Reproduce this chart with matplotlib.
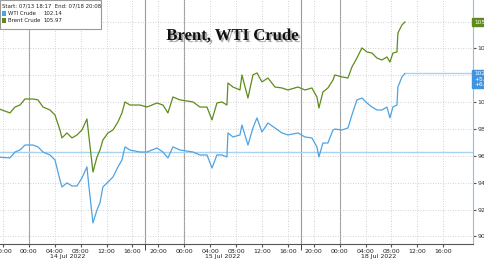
import matplotlib
matplotlib.use("Agg")
import matplotlib.pyplot as plt
import matplotlib.patheffects as pe
from matplotlib import font_manager
from matplotlib.patches import Rectangle
from matplotlib.transforms import blended_transform_factory

# ----------------------------------------------------------------------
# Data (hours on the compressed trading axis, 0 = 13 Jul 20:00)

hours = [-1.0, 1.08, 1.85, 2.63, 3.40, 4.63, 5.41, 6.18, 7.26, 8.03,
         8.80, 9.11, 9.88, 10.66, 11.43, 12.20, 12.97, 13.28, 13.90, 14.52,
         14.98, 15.44, 16.22, 16.99, 17.76, 18.38, 18.84, 19.61, 21.16, 22.24,
         23.78, 24.71, 25.48, 26.25, 27.34, 29.34, 30.42, 31.51, 32.28, 33.05,
         33.82, 34.59, 34.75, 35.52, 36.60, 36.91, 37.84, 38.61, 39.23, 40.00,
         40.93, 42.01, 43.09, 44.02, 45.56, 46.64, 47.72, 48.49, 48.80, 49.42,
         50.19, 50.97, 51.27, 52.36, 53.28, 53.90, 54.67, 55.44, 56.22, 56.99,
         57.76, 58.53, 59.31, 59.77, 60.23, 60.85, 61.00, 61.62, 62.09]

brent = [99.57, 99.20, 99.64, 99.79, 100.24, 100.24, 100.17, 99.64, 99.42, 99.05,
         97.93, 97.34, 97.71, 97.34, 97.56, 97.93, 98.75, 97.41, 94.80, 95.92,
         96.44, 97.19, 97.71, 97.93, 98.53, 99.20, 100.02, 99.79, 99.79, 99.64,
         99.94, 99.79, 99.20, 100.39, 100.17, 100.02, 99.64, 99.64, 98.68, 99.94,
         100.02, 99.79, 101.43, 101.13, 100.91, 102.03, 100.31, 102.03, 102.18, 101.51,
         101.80, 101.13, 101.06, 100.91, 101.13, 100.91, 101.06, 100.39, 99.57, 100.76,
         101.06, 101.65, 102.03, 101.88, 101.80, 102.62, 103.29, 104.04, 103.74, 103.66,
         103.29, 103.14, 103.37, 102.99, 103.66, 103.74, 105.15, 105.75, 105.97]

wti = [95.92, 95.85, 96.29, 96.44, 96.81, 96.81, 96.67, 96.29, 96.07, 95.70,
       94.21, 93.69, 93.99, 93.76, 93.76, 94.36, 95.18, 93.69, 91.01, 91.98,
       92.50, 93.69, 94.06, 94.43, 95.18, 95.70, 96.67, 96.44, 96.29, 96.29,
       96.59, 96.29, 95.85, 96.67, 96.44, 96.29, 96.07, 96.07, 95.10, 96.07,
       96.07, 95.92, 97.71, 97.41, 97.56, 98.30, 96.81, 98.08, 98.83, 97.78,
       98.45, 98.08, 97.71, 97.56, 97.71, 97.41, 97.34, 96.67, 95.92, 96.96,
       96.96, 97.93, 98.00, 97.93, 98.08, 99.05, 100.17, 100.31, 99.94, 99.64,
       99.42, 99.42, 99.64, 98.83, 99.64, 99.79, 101.13, 101.88, 102.14]

wti_prev_close = 96.29
wti_change = ["+5.85", "+6.08%"]

tick_hours = list(range(0, 72, 4))
tick_labels = ["20:00", "00:00", "04:00", "08:00", "12:00", "16:00",
               "20:00", "00:00", "04:00", "08:00", "12:00", "16:00",
               "20:00", "00:00", "04:00", "08:00", "12:00", "16:00"]
session_hours = [4, 22, 28, 46, 52]
date_hours = [10, 34, 58]
date_labels = ["14 Jul 2022", "15 Jul 2022", "18 Jul 2022"]
y_ticks = [90, 92, 94, 96, 98, 100, 102, 104, 106]
y_hidden = [102, 106]   # covered by the last value tags

BRENT_C = "#5e8c1c"
WTI_C = "#4ea3e2"

available = {f.name for f in font_manager.fontManager.ttflist}
narrow = "Liberation Sans Narrow" if "Liberation Sans Narrow" in available else "DejaVu Sans"
leg_size = 4.6 if narrow != "DejaVu Sans" else 3.9

# ----------------------------------------------------------------------
# Plot

W, H = 485, 260
fig = plt.figure(figsize=(W / 100, H / 100), dpi=100)
ax = fig.add_axes([0, 16 / H, 473 / W, 244 / H])

ax.set_xlim(-0.46, 72.6)
ax.set_ylim(89.44, 107.61)

ax.grid(True, color="#c4c4c4", linestyle=(0, (1, 2)), linewidth=0.6)
for h in session_hours:
    ax.axvline(h, color="#9a9a9a", linewidth=0.8, zorder=1)

ax.axhline(wti_prev_close, color="#a8d2f0", linewidth=1.0, zorder=2)
ax.hlines(wti[-1], hours[-1], 72.6, color="#a8d2f0", linewidth=1.0, zorder=2)

ax.plot(hours, wti, color=WTI_C, linewidth=0.9, zorder=3)
ax.plot(hours, brent, color=BRENT_C, linewidth=0.9, zorder=3)

for s in ["left", "top"]:
    ax.spines[s].set_visible(False)
ax.spines["right"].set_color("#8fc0e6")
ax.spines["bottom"].set_color("#555555")

ax.set_xticks(tick_hours)
ax.set_xticklabels(tick_labels)
ax.set_xticks(session_hours, minor=True)
ax.tick_params(axis="x", which="major", labelsize=4.5, length=2, pad=1.5,
               color="#555555", labelcolor="#222222")
ax.tick_params(axis="x", which="minor", length=4, color="#222222")
for h, lab in zip(date_hours, date_labels):
    ax.text(h, -0.05, lab, transform=blended_transform_factory(ax.transData, ax.transAxes),
            ha="center", va="center", fontsize=4.5, color="#222222")

ax.yaxis.tick_right()
ax.set_yticks(y_ticks)
ax.set_yticklabels(["" if v in y_hidden else "%.2f" % v for v in y_ticks])
ax.tick_params(axis="y", labelsize=4.5, length=2, pad=1, color="#555555",
               labelcolor="#333333")

# last value tags on the right
tr = blended_transform_factory(ax.transAxes, ax.transData)
ax.text(1.002, brent[-1], "%.2f" % brent[-1], transform=tr, ha="left", va="center",
        fontsize=4.2, color="white", zorder=6, clip_on=False,
        bbox=dict(boxstyle="square,pad=0.25", fc=BRENT_C, ec=BRENT_C))
ax.text(1.002, wti[-1] + 0.15, "%.2f\n%s\n%s" % (wti[-1], wti_change[0], wti_change[1]),
        transform=tr, ha="left", va="top", fontsize=4.2, color="white", zorder=6,
        linespacing=1.05, clip_on=False,
        bbox=dict(boxstyle="square,pad=0.25", fc="#3f93e0", ec="#3f93e0"))

# title
fig.text(232 / W, 1 - 36 / H, "Brent, WTI Crude", ha="center", va="center",
         fontsize=12, fontweight="bold", family="Liberation Serif", color="#111111",
         path_effects=[pe.withSimplePatchShadow(offset=(1.5, -1.5),
                                                shadow_rgbFace="#777777", alpha=0.6)])

# legend box in the top left corner
fig.add_artist(Rectangle((0, 1 - 29 / H), 101 / W, 29 / H, transform=fig.transFigure,
                         facecolor="white", edgecolor="#9a9a9a", linewidth=0.8, zorder=5))
fig.text(2 / W, 1 - 5.5 / H, "Start: 07/13 18:17  End: 07/18 20:08", ha="left",
         va="center", fontsize=leg_size, family=narrow, color="#222222", zorder=6)
for i, (name, color, val) in enumerate([("WTI Crude", WTI_C, wti[-1]),
                                        ("Brent Crude", BRENT_C, brent[-1])]):
    yy = 1 - (13.2 + 7.5 * i) / H
    fig.add_artist(Rectangle((2 / W, yy - 2.5 / H), 4 / W, 5 / H, transform=fig.transFigure,
                             facecolor=color, edgecolor="none", zorder=6))
    fig.text(8 / W, yy, name, ha="left", va="center", fontsize=leg_size, family=narrow,
             color="#222222", zorder=6)
    fig.text(43 / W, yy, "%.2f" % val, ha="left", va="center", fontsize=leg_size,
             family=narrow, color="#222222", zorder=6)

fig.savefig("out.png", dpi=100)
